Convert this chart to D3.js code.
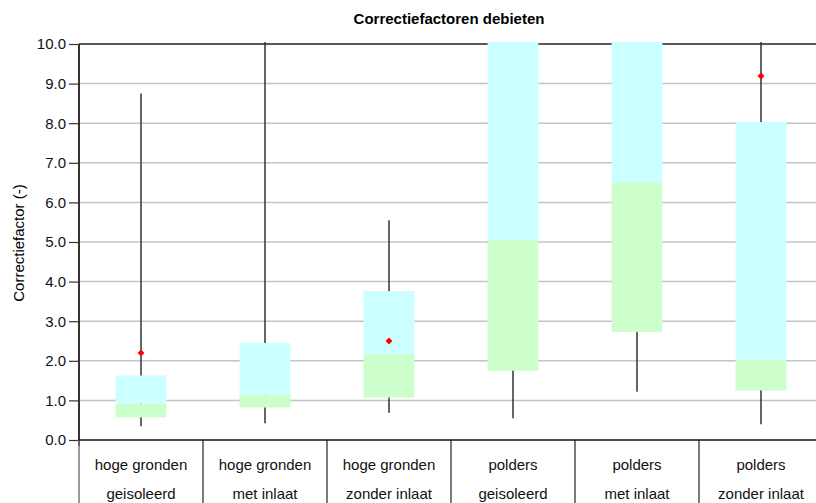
<!DOCTYPE html>
<html>
<head>
<meta charset="utf-8">
<script src="https://cdn.jsdelivr.net/npm/d3@7"></script>
<style>
  html, body { margin: 0; padding: 0; background: #fff; }
  svg { display: block; font-family: "Liberation Sans", Arial, sans-serif; }
</style>
</head>
<body>
<svg id="chart" width="816" height="503"></svg>
<script>
// Categories (two-line labels)
const catLine1 = ["hoge gronden", "hoge gronden", "hoge gronden", "polders", "polders", "polders"];
const catLine2 = ["geisoleerd", "met inlaat", "zonder inlaat", "geisoleerd", "met inlaat", "zonder inlaat"];

// Box-plot statistics per category (values above 10 run off the top of the axis)
const whiskerLow  = [0.35, 0.42, 0.69, 0.55, 1.22, 0.40];
const quartile1   = [0.57, 0.82, 1.07, 1.75, 2.73, 1.25];
const medianVals  = [0.92, 1.14, 2.17, 5.05, 6.49, 2.02];
const quartile3   = [1.63, 2.45, 3.76, 11.0, 11.0, 8.03];
const whiskerHigh = [8.75, 11.0, 5.55, 11.0, 11.0, 11.0];
const meanVals    = [2.20, null, 2.50, null, null, 9.19];

const yTicks = [0, 1, 2, 3, 4, 5, 6, 7, 8, 9, 10];

const svg = d3.select("#chart");
const plotLeft = 79, plotTop = 44, plotBottom = 440, bandW = 124;
const plotRight = plotLeft + bandW * catLine1.length;

const x = d3.scaleBand().domain(d3.range(catLine1.length)).range([plotLeft, plotRight]).padding(0);
const y = d3.scaleLinear().domain([0, 10]).range([plotBottom, plotTop]);
const boxW = x.bandwidth() * 0.41;

// Title
svg.append("text")
  .attr("x", 449).attr("y", 24)
  .attr("text-anchor", "middle")
  .attr("font-size", 15).attr("font-weight", "bold")
  .text("Correctiefactoren debieten");

// Y axis title
svg.append("text")
  .attr("transform", "translate(24,243) rotate(-90)")
  .attr("text-anchor", "middle")
  .attr("font-size", 15)
  .text("Correctiefactor (-)");

// Horizontal gridlines
svg.append("g").selectAll("line")
  .data(yTicks.filter(d => d > 0 && d < 10))
  .join("line")
  .attr("x1", plotLeft).attr("x2", 816)
  .attr("y1", d => y(d)).attr("y2", d => y(d))
  .attr("stroke", "#c4c4c4").attr("stroke-width", 1.5);

// Plot-area top border
svg.append("line")
  .attr("x1", plotLeft).attr("x2", 816)
  .attr("y1", y(10)).attr("y2", y(10))
  .attr("stroke", "#222").attr("stroke-width", 1.5);

// Y axis with tick labels
const yAxis = d3.axisLeft(y).tickValues(yTicks).tickFormat(d3.format(".1f")).tickSize(10).tickPadding(3);
const gy = svg.append("g").attr("transform", `translate(${plotLeft},0)`).call(yAxis);
gy.select(".domain").remove();
gy.selectAll(".tick line").attr("stroke", "#333").attr("stroke-width", 1.2);
gy.selectAll(".tick text").attr("font-size", 15).attr("fill", "#111")
  .attr("font-family", "'Liberation Sans', Arial, sans-serif");

// Clip marks to the plot area (slightly above the top border)
svg.append("clipPath").attr("id", "plotClip")
  .append("rect").attr("x", plotLeft).attr("y", plotTop - 2)
  .attr("width", plotRight - plotLeft).attr("height", plotBottom - plotTop + 2);

const plot = svg.append("g").attr("clip-path", "url(#plotClip)");
const cx = i => x(i) + x.bandwidth() / 2;
const idx = d3.range(catLine1.length);

// Whiskers
plot.append("g").selectAll("line")
  .data(idx)
  .join("line")
  .attr("x1", cx).attr("x2", cx)
  .attr("y1", i => y(whiskerLow[i])).attr("y2", i => y(whiskerHigh[i]))
  .attr("stroke", "#333").attr("stroke-width", 1.5);

// Lower half of box (Q1 to median)
plot.append("g").selectAll("rect")
  .data(idx)
  .join("rect")
  .attr("x", i => cx(i) - boxW / 2).attr("width", boxW)
  .attr("y", i => y(medianVals[i])).attr("height", i => y(quartile1[i]) - y(medianVals[i]))
  .attr("fill", "#ccffcc");

// Upper half of box (median to Q3)
plot.append("g").selectAll("rect")
  .data(idx)
  .join("rect")
  .attr("x", i => cx(i) - boxW / 2).attr("width", boxW)
  .attr("y", i => y(quartile3[i])).attr("height", i => y(medianVals[i]) - y(quartile3[i]))
  .attr("fill", "#ccffff");

// Mean markers (square turned 45 degrees)
plot.append("g").selectAll("path")
  .data(idx.filter(i => meanVals[i] != null))
  .join("path")
  .attr("transform", i => `translate(${cx(i)},${y(meanVals[i])}) rotate(45)`)
  .attr("d", d3.symbol(d3.symbolSquare, 24))
  .attr("fill", "#ff0000");

// Y axis line
svg.append("line")
  .attr("x1", plotLeft).attr("x2", plotLeft)
  .attr("y1", plotTop).attr("y2", plotBottom + 6)
  .attr("stroke", "#333").attr("stroke-width", 2);

// Category table: separators
svg.append("g").selectAll("line")
  .data(d3.range(catLine1.length + 1))
  .join("line")
  .attr("x1", i => plotLeft + i * bandW).attr("x2", i => plotLeft + i * bandW)
  .attr("y1", plotBottom).attr("y2", 503)
  .attr("stroke", i => i === 0 ? "#777" : "#222").attr("stroke-width", i => i === 0 ? 1.5 : 1.2);

// X axis line
svg.append("line")
  .attr("x1", plotLeft).attr("x2", 816)
  .attr("y1", plotBottom).attr("y2", plotBottom)
  .attr("stroke", "#111").attr("stroke-width", 1.5);

// Category labels
const labels = svg.append("g").attr("font-size", 15).attr("text-anchor", "middle").attr("fill", "#111");
labels.selectAll("text.l1").data(idx).join("text").attr("class", "l1")
  .attr("x", cx).attr("y", 470).text(i => catLine1[i]);
labels.selectAll("text.l2").data(idx).join("text").attr("class", "l2")
  .attr("x", cx).attr("y", 499).text(i => catLine2[i]);
</script>
</body>
</html>
